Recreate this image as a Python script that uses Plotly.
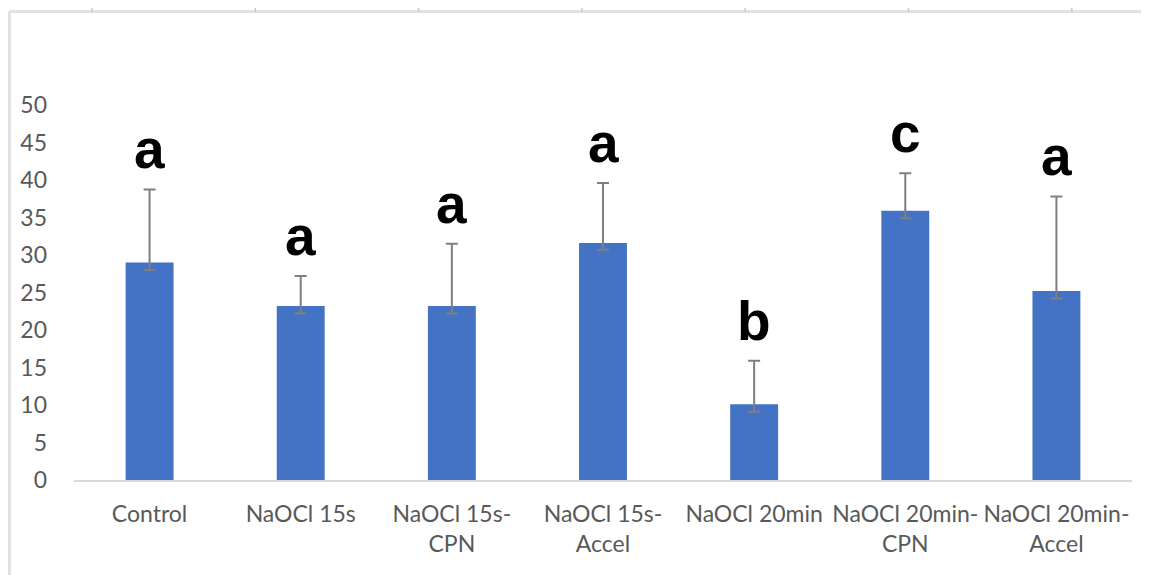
import plotly.graph_objects as go

categories = ["Control", "NaOCl 15s", "NaOCl 15s-<br>CPN", "NaOCl 15s-<br>Accel",
              "NaOCl 20min", "NaOCl 20min-<br>CPN", "NaOCl 20min-<br>Accel"]
means = [29.0, 23.2, 23.2, 31.6, 10.1, 35.9, 25.2]
err_upper = [9.75, 4.0, 8.3, 8.0, 5.8, 5.0, 12.6]
err_lower = [1.0, 1.0, 1.0, 0.9, 1.0, 1.0, 1.0]
letters = ["a", "a", "a", "a", "b", "c", "a"]
y_ticks = [0, 5, 10, 15, 20, 25, 30, 35, 40, 45, 50]

W, H = 1149, 575
# page offset of the plot div (browser body margin) is 8px
PL, PR, PT, PB = 74, 1132, 45, 480  # plot area in page pixels
PW, PH = PR - PL, PB - PT


def dx(px):
    return (px - PL) / PW


def dy(py):
    return (PB - py) / PH


fig = go.Figure()
fig.add_trace(go.Bar(
    x=categories, y=means,
    marker=dict(color="#4472C4", line=dict(width=0)),
    error_y=dict(type="data", symmetric=False, array=err_upper, arrayminus=err_lower,
                 color="#7f7f7f", thickness=2, width=6),
))

for c, m, e, l in zip(categories, means, err_upper, letters):
    fig.add_annotation(x=c, y=m + e + 2.7, text="<b>" + l + "</b>", showarrow=False,
                       yanchor="bottom", yshift=-13,
                       font=dict(family="Liberation Sans, Arial", size=55, color="#000000"))

frame_col = "#e2e2e2"
fig.add_shape(type="line", xref="x domain", yref="y domain",
              x0=dx(9.5), x1=dx(1160), y0=dy(11.5), y1=dy(11.5),
              line=dict(color=frame_col, width=3))
fig.add_shape(type="line", xref="x domain", yref="y domain",
              x0=dx(9.5), x1=dx(9.5), y0=dy(590), y1=dy(11.5),
              line=dict(color=frame_col, width=3))
for k in range(7):
    px = 92 + 163.3 * k
    fig.add_shape(type="line", xref="x domain", yref="y domain",
                  x0=dx(px), x1=dx(px), y0=dy(12), y1=dy(8),
                  line=dict(color="#c8c8c8", width=1.5))
for k in range(13):
    py = 43 + 43.5 * k
    fig.add_shape(type="line", xref="x domain", yref="y domain",
                  x0=dx(6), x1=dx(8.5), y0=dy(py), y1=dy(py),
                  line=dict(color="#c8c8c8", width=1.5))

fig.update_layout(
    width=W, height=H,
    margin=dict(l=PL - 8, r=W - (PR - 8), t=PT - 8, b=H - (PB - 8)),
    paper_bgcolor="white", plot_bgcolor="white",
    showlegend=False,
    bargap=0.683,
    font=dict(family="Lato, Carlito, Calibri, sans-serif", size=23, color="#595959"),
    xaxis=dict(showline=True, linecolor="#d9d9d9", linewidth=1.5, showgrid=False,
               ticks="", ticklabelstandoff=13, tickfont=dict(size=23, color="#595959")),
    yaxis=dict(range=[0, 58], tickvals=y_ticks, showgrid=False, zeroline=False,
               showline=False, ticks="", ticklabelstandoff=26,
               tickfont=dict(size=23, color="#595959")),
)
fig.write_html("out.html")
